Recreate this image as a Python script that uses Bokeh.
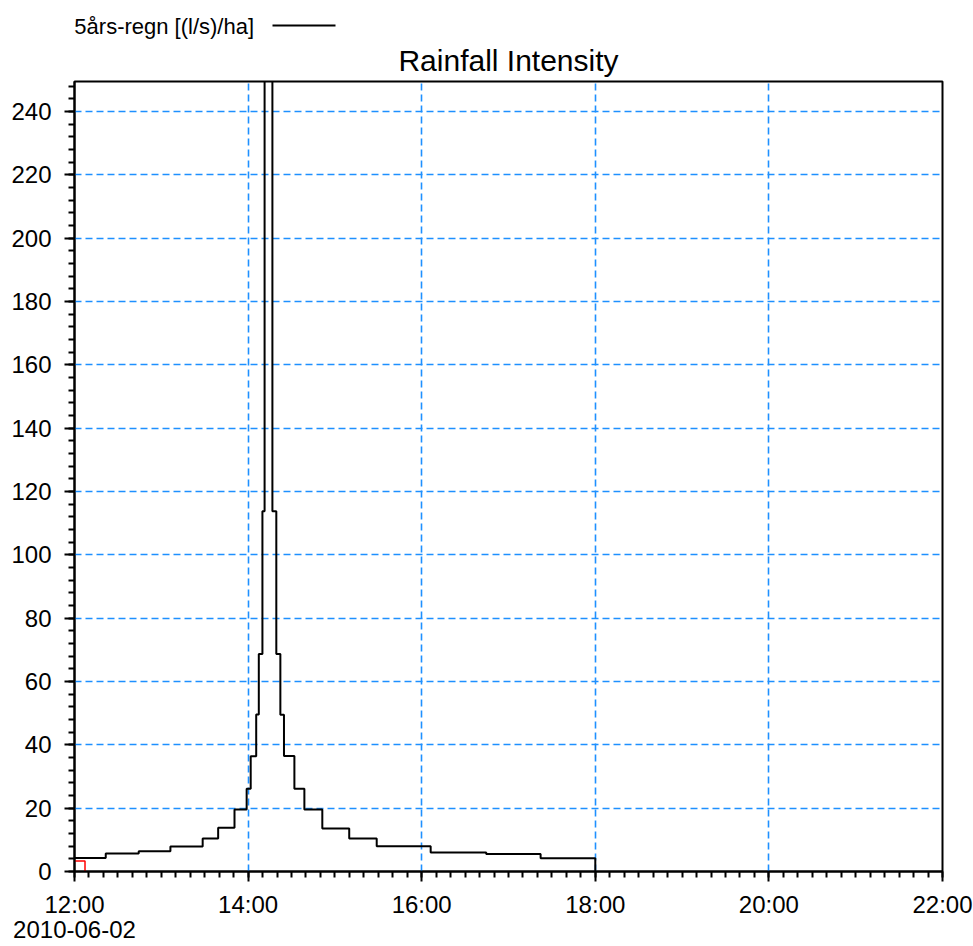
import datetime as dt
from bokeh.plotting import figure
from bokeh.models import (FixedTicker, DatetimeTickFormatter, Range1d, Title,
                          LinearAxis, PrintfTickFormatter)
from bokeh.embed import file_html
from bokeh.resources import INLINE

# ---------------- data ----------------
event_start = dt.datetime(2010, 6, 2, 12, 0)
axis_end = dt.datetime(2010, 6, 2, 22, 0)

# step boundaries, minutes after 12:00
break_minutes = [0.0, 21.6, 44.4, 66.3, 88.6, 99.3, 110.6, 119.0, 121.8, 125.6,
                 127.4, 129.9, 131.4, 136.8, 139.5, 142.3, 144.8, 152.0, 158.9,
                 171.3, 189.9, 208.9, 246.2, 284.6, 322.2, 360.0]
# intensity in each interval [(l/s)/ha]
intensity = [4.3, 5.7, 6.4, 7.9, 10.4, 13.8, 19.6, 26.1, 36.4, 49.6,
             68.7, 113.8, 300.0, 113.8, 68.7, 49.5, 36.5, 26.1, 19.6,
             13.6, 10.4, 8.0, 6.0, 5.5, 4.2]

series_name = "5års-regn [(l/s)/ha]"
title_text = "Rainfall Intensity"
x_major_hours = [12, 14, 16, 18, 20, 22]
y_major = list(range(0, 241, 20))
y_minor = list(range(0, 250, 4))
y_max = 249.5

# legend layout (minutes after 12:00 on the shared time scale)
legend_text_center_min = 62.0
legend_line_min = (136.8, 180.4)

# ---------------- helpers ----------------
epoch = dt.datetime(1970, 1, 1)


def ms(t):
    return (t - epoch).total_seconds() * 1000.0


def ms_after_start(minutes):
    return ms(event_start + dt.timedelta(minutes=minutes))


xs = [event_start + dt.timedelta(minutes=m) for m in break_minutes]
ys = intensity + [0.0]

x_major = [ms(event_start + dt.timedelta(hours=h - 12)) for h in x_major_hours]
x_minor = [ms_after_start(10 * i) for i in range(0, 61)]

FONT = "Liberation Sans"

p = figure(width=973, height=946, x_axis_type="datetime", title=None,
           x_range=Range1d(event_start, axis_end), y_range=Range1d(0, y_max),
           output_backend="svg", toolbar_location=None,
           min_border_left=74, min_border_right=31,
           min_border_top=81, min_border_bottom=73)

p.outline_line_color = "black"
p.outline_line_width = 2
p.background_fill_color = "white"
p.border_fill_color = "white"

# axes
p.xaxis.ticker = FixedTicker(ticks=x_major, minor_ticks=x_minor)
fmt = "%H:%M"
p.xaxis.formatter = DatetimeTickFormatter(hours=fmt, hourmin=fmt, minutes=fmt,
                                          minsec=fmt, days=fmt, months=fmt, years=fmt,
                                          context="%Y-%m-%d", context_which="start")
p.yaxis.ticker = FixedTicker(ticks=y_major, minor_ticks=y_minor)

for ax in (p.xaxis, p.yaxis):
    ax.axis_line_color = "black"
    ax.axis_line_width = 2
    ax.major_tick_line_color = "black"
    ax.major_tick_line_width = 2
    ax.minor_tick_line_color = "black"
    ax.minor_tick_line_width = 2
    ax.major_tick_out = 10
    ax.major_tick_in = 0
    ax.minor_tick_out = 6
    ax.minor_tick_in = 0
    ax.major_label_text_font = FONT
    ax.major_label_text_font_size = "24px"
    ax.major_label_text_color = "black"
p.xaxis.major_label_standoff = 9
p.xaxis.major_label_text_line_height = 0.95
p.yaxis.major_label_standoff = 13

# grid
for g in (p.xgrid, p.ygrid):
    g.grid_line_color = "#1E90FF"
    g.grid_line_width = 1.6
    g.grid_line_dash = "7 4"
p.xgrid.ticker = p.xaxis.ticker
p.ygrid.ticker = p.yaxis.ticker

# series
r = p.step(xs, ys, mode="after", line_color="black", line_width=2)

# selection marker at the first point
p.scatter([xs[0]], [ys[-1]], marker="square", size=21, fill_color=None,
          line_color="red", line_width=1.5)

# ---- above the frame: title, then legend row (text + line sample) ----
p.add_layout(Title(text=title_text, align="center", text_font=FONT,
                   text_font_size="30px", text_font_style="normal",
                   text_color="black"), "above")

# invisible spacer row between title and legend
spacer = LinearAxis(ticker=FixedTicker(ticks=[ms_after_start(0)]),
                    formatter=PrintfTickFormatter(format=" "),
                    axis_line_color=None, major_tick_line_color=None,
                    major_tick_out=11, major_tick_in=0, minor_tick_out=0,
                    minor_tick_in=0, major_label_standoff=0,
                    major_label_text_font_size="1px",
                    major_label_text_alpha=0)
p.add_layout(spacer, "above")

legend_line = LinearAxis(ticker=FixedTicker(ticks=[]),
                         bounds=(ms_after_start(legend_line_min[0]),
                                 ms_after_start(legend_line_min[1])),
                         axis_line_color="black", axis_line_width=2,
                         major_tick_out=0, major_tick_in=0, minor_tick_out=0,
                         minor_tick_in=0, major_label_standoff=0)
p.add_layout(legend_line, "above")

legend_text = LinearAxis(ticker=FixedTicker(ticks=[ms_after_start(legend_text_center_min)]),
                         formatter=PrintfTickFormatter(format=series_name),
                         axis_line_color=None, major_tick_line_color=None,
                         minor_tick_line_color=None,
                         major_tick_out=0, major_tick_in=0, minor_tick_out=0,
                         minor_tick_in=0, major_label_standoff=-13,
                         major_label_text_align="center",
                         major_label_text_font=FONT,
                         major_label_text_font_size="22px",
                         major_label_text_color="black")
p.add_layout(legend_text, "above")

open("out.html", "w").write(file_html(p, INLINE))
